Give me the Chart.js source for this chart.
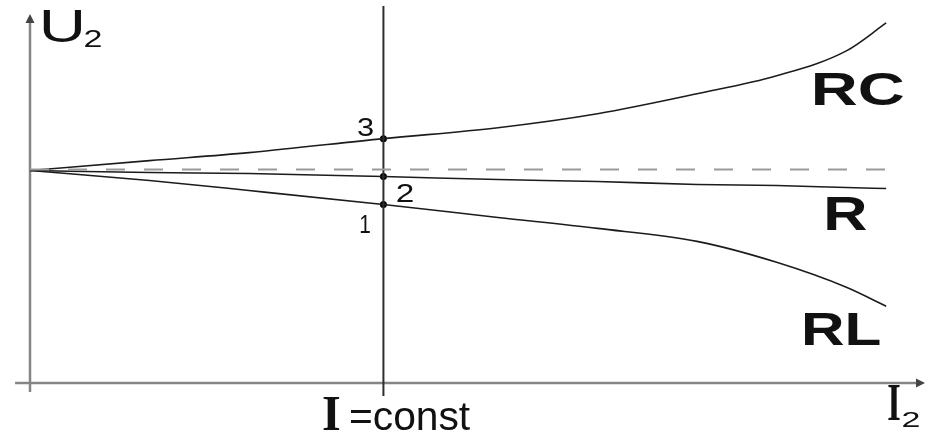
<!DOCTYPE html>
<html>
<head>
<meta charset="utf-8">
<script src="https://cdn.jsdelivr.net/npm/chart.js@4"></script>
<style>
  html, body { margin: 0; padding: 0; background: #fff; }
  canvas { display: block; }
</style>
</head>
<body>
<canvas id="chart" width="930" height="434"></canvas>
<script>
// load current I2 (arbitrary units) and output voltage U2 for each load type
var loadCurrent = [0, 12, 22, 35.5, 47, 57, 67, 75, 82, 86];
var voltageRC = [21.3, 22.3, 23.1, 24.5, 25.6, 27.0, 29.0, 30.8, 33.3, 36.1];
var voltageR = [21.3, 21.1, 21.0, 20.7, 20.4, 20.2, 19.9, 19.8, 19.6, 19.5];
var voltageRL = [21.3, 20.3, 19.3, 17.9, 16.6, 15.5, 14.2, 12.1, 9.6, 7.7];
var noLoadVoltage = 21.4;
var constCurrent = 35.5;
var pointLabels = ["3", "2", "1"];

function toPoints(xs, ys) {
    var pts = [];
    for (var i = 0; i < xs.length; i++) {
        pts.push({ x: xs[i], y: ys[i] });
    }
    return pts;
}

var idx = loadCurrent.indexOf(constCurrent);
var markers = [
    { x: constCurrent, y: voltageRC[idx] },
    { x: constCurrent, y: voltageR[idx] },
    { x: constCurrent, y: voltageRL[idx] }
];

var curveStyle = {
    showLine: true,
    borderColor: "#1c1c1c",
    borderWidth: 1.6,
    pointRadius: 0,
    tension: 0.4,
    cubicInterpolationMode: "monotone",
    fill: false
};

// ink-fitted text: the glyphs are stretched horizontally to the given width
function drawText(ctx, str, left, baseline, font, inkWidth) {
    ctx.save();
    ctx.font = font;
    ctx.textAlign = "left";
    ctx.textBaseline = "alphabetic";
    var m = ctx.measureText(str);
    var w = m.actualBoundingBoxLeft + m.actualBoundingBoxRight;
    var sx = inkWidth ? inkWidth / w : 1;
    ctx.translate(left, baseline);
    ctx.scale(sx, 1);
    ctx.fillText(str, m.actualBoundingBoxLeft, 0);
    ctx.restore();
}

var axesPlugin = {
    id: "axes_with_arrows",
    beforeDatasetsDraw: function (chart) {
        var ctx = chart.ctx;
        var xs = chart.scales.x, ys = chart.scales.y;
        var x0 = xs.getPixelForValue(0);
        var y0 = ys.getPixelForValue(0);
        var yTop = ys.getPixelForValue(37.0);
        var xEnd = xs.getPixelForValue(89.8);
        ctx.save();
        ctx.strokeStyle = "#858585";
        ctx.lineWidth = 2.5;
        ctx.beginPath();
        ctx.moveTo(x0, ys.getPixelForValue(-0.9));
        ctx.lineTo(x0, yTop + 4);
        ctx.moveTo(xs.getPixelForValue(-1.5), y0);
        ctx.lineTo(xEnd - 4, y0);
        ctx.stroke();

        ctx.fillStyle = "#444";
        ctx.beginPath();
        ctx.moveTo(x0, yTop);
        ctx.lineTo(x0 - 4.5, yTop + 9);
        ctx.lineTo(x0 + 4.5, yTop + 9);
        ctx.closePath();
        ctx.fill();
        ctx.beginPath();
        ctx.moveTo(xEnd + 1, y0);
        ctx.lineTo(xEnd - 8, y0 - 4.5);
        ctx.lineTo(xEnd - 8, y0 + 4.5);
        ctx.closePath();
        ctx.fill();
        ctx.restore();
    },
    afterDraw: function (chart) {
        var ctx = chart.ctx;
        ctx.save();
        ctx.fillStyle = "#111";
        var sans = "'Liberation Sans', Arial, sans-serif";
        var serif = "'Liberation Serif', 'Times New Roman', serif";

        // axis titles
        drawText(ctx, "U", 43, 42, "47px " + sans, 39);
        drawText(ctx, "2", 85, 47, "24px " + sans, 17);
        drawText(ctx, "I", 323, 430, "bold 51px " + serif, 17);
        drawText(ctx, "=const", 350, 430, "40px " + sans, 120);
        drawText(ctx, "I", 888, 420, "bold 52px " + serif, 12);
        drawText(ctx, "2", 903, 427, "22px " + sans, 17);

        // numbered operating points
        drawText(ctx, pointLabels[0], 357, 136, "25px " + sans, 16);
        drawText(ctx, pointLabels[1], 397, 202, "25px " + sans, 16);
        drawText(ctx, pointLabels[2], 360, 233, "25px " + sans, 10);

        // load type names
        drawText(ctx, "RC", 815, 105, "bold 46px " + sans, 88);
        drawText(ctx, "R", 827, 230, "bold 49px " + sans, 40);
        drawText(ctx, "RL", 805, 345, "bold 46px " + sans, 75);
        ctx.restore();
    }
};

var ctx = document.getElementById("chart").getContext("2d");
var chart = new Chart(ctx, {
    type: "scatter",
    data: {
        datasets: [
            {
                label: "U20",
                data: [{ x: 0, y: noLoadVoltage }, { x: 86, y: noLoadVoltage }],
                showLine: true,
                borderColor: "#9a9a9a",
                borderWidth: 2,
                borderDash: [19, 19],
                pointRadius: 0
            },
            {
                label: "I=const",
                data: [{ x: constCurrent, y: -1.3 }, { x: constCurrent, y: 37.8 }],
                showLine: true,
                borderColor: "#2e2e2e",
                borderWidth: 2,
                pointRadius: 0,
                clip: false
            },
            Object.assign({ label: "RC", data: toPoints(loadCurrent, voltageRC) }, curveStyle),
            Object.assign({ label: "R", data: toPoints(loadCurrent, voltageR) }, curveStyle),
            Object.assign({ label: "RL", data: toPoints(loadCurrent, voltageRL) }, curveStyle),
            {
                label: "points",
                data: markers,
                showLine: false,
                pointRadius: 3.5,
                pointBackgroundColor: "#000",
                pointBorderWidth: 0
            }
        ]
    },
    options: {
        responsive: false,
        animation: false,
        devicePixelRatio: 1,
        layout: { padding: { left: 30, right: 0, top: 3, bottom: 51 } },
        plugins: {
            legend: { display: false },
            tooltip: { enabled: false }
        },
        scales: {
            x: { type: "linear", display: false, min: 0, max: 90 },
            y: { type: "linear", display: false, min: 0, max: 38 }
        }
    },
    plugins: [axesPlugin]
});
</script>
</body>
</html>
